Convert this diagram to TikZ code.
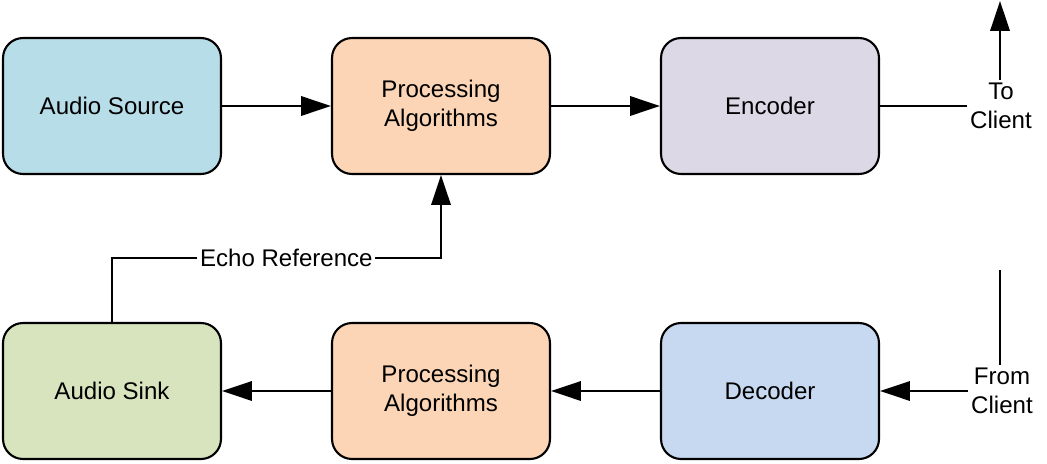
\documentclass[tikz,border=0pt]{standalone}
\usepackage{fontspec}
\setmainfont{Liberation Sans}
\usetikzlibrary{arrows.meta}

\definecolor{srcblue}{HTML}{B7DDE8}
\definecolor{procorange}{HTML}{FBD5B5}
\definecolor{encviolet}{HTML}{DDD8E6}
\definecolor{decblue}{HTML}{C6D9F0}
\definecolor{sinkgreen}{HTML}{D7E4BD}

\begin{document}
\begin{tikzpicture}[x=0.02cm, y=-0.02cm,
  block/.style={draw, line width=1.2pt, rounded corners=0.4cm,
                minimum width=4.36cm, minimum height=2.72cm, align=center,
                font=\fontsize{13.7}{16.4}\selectfont},
  link/.style={-{Triangle[length=17pt, width=11pt]}, line width=1.3pt},
  tag/.style={fill=white, inner sep=1.5pt, align=center,
              font=\fontsize{13.7}{16.4}\selectfont}]

\useasboundingbox (0,0) rectangle (1047,463);

% top row
\node[block, fill=srcblue]    (src)   at (112,106) {Audio Source};
\node[block, fill=procorange] (proc1) at (441,106) {Processing\\Algorithms};
\node[block, fill=encviolet]  (enc)   at (770,106) {Encoder};

% bottom row
\node[block, fill=sinkgreen]  (sink)  at (112,391) {Audio Sink};
\node[block, fill=procorange] (proc2) at (441,391) {Processing\\Algorithms};
\node[block, fill=decblue]    (dec)   at (770,391) {Decoder};

% client side
\node[tag] (to)   at (1001,106) {To\\Client};
\node[tag] (from) at (1002,391) {From\\Client};
\coordinate (up)   at (1000,1);
\coordinate (down) at (1000,270);

\draw[link] (src) -- (proc1);
\draw[link] (proc1) -- (enc);
\draw[line width=1.3pt] (enc) -- (to);
\draw[link] (to.north -| up) -- (up);

\draw[line width=1.3pt] (down) -- (from.north -| down);
\draw[link] (from) -- (dec);
\draw[link] (dec) -- (proc2);
\draw[link] (proc2) -- (sink);

% echo path
\coordinate (e1) at (112,258);
\coordinate (e2) at (441,258);
\draw[link] (sink) -- (e1) -- node[tag, pos=0.53] (echo) {Echo Reference} (e2) -- (proc1);

\end{tikzpicture}
\end{document}
